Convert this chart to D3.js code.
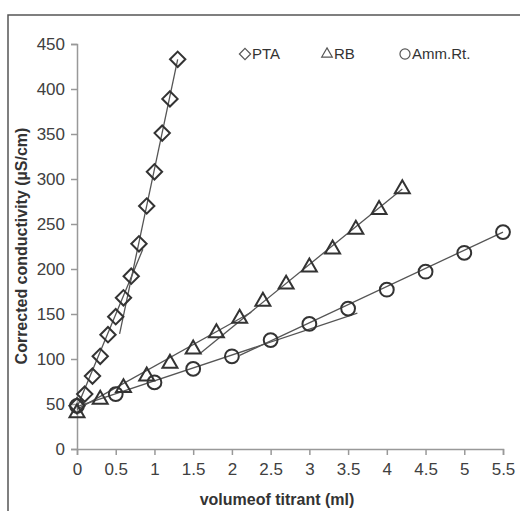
<!DOCTYPE html>
<html><head><meta charset="utf-8">
<script src="https://cdn.jsdelivr.net/npm/d3@7"></script>
<style>body{margin:0;background:#fff}svg{display:block}</style>
</head><body><svg id="c" width="520" height="511"></svg>
<script>
// ---- data ----
const ptaX = [0,0.1,0.2,0.3,0.4,0.5,0.6,0.7,0.8,0.9,1.0,1.1,1.2,1.3];
const ptaY = [48,61,81,103,127,147,168,192,228,270,308,351,389,433];
const rbX = [0,0.3,0.6,0.9,1.2,1.5,1.8,2.1,2.4,2.7,3.0,3.3,3.6,3.9,4.2];
const rbY = [40,55,68,81,95,111,129,145,164,183,202,222,244,266,289];
const ammX = [0,0.5,1.0,1.5,2.0,2.5,3.0,3.5,4.0,4.5,5.0,5.5];
const ammY = [48,61,74,89,103,121,139,156,177,197,218,241];
// trend line segments [x1,y1,x2,y2]
const ptaFits = [[0,46,0.85,222],[0.55,128,1.3,433]];
const rbFits = [[0,44,2.25,152],[1.6,107,4.2,289]];
const ammFits = [[0,47,3.62,151],[2.1,104,5.5,241]];
const xTicks = [0,0.5,1,1.5,2,2.5,3,3.5,4,4.5,5,5.5];
const yTicks = [0,50,100,150,200,250,300,350,400,450];
const seriesNames = ["PTA","RB","Amm.Rt."];

const svg = d3.select("#c");
const font = "'Liberation Sans Narrow','Liberation Sans',Arial,sans-serif";
svg.append("rect").attr("x",8).attr("y",15).attr("width",530).attr("height",530)
  .attr("fill","none").attr("stroke","#555").attr("stroke-width",1.5);

const x = d3.scaleLinear().domain([0,5.5]).range([77,503]);
const y = d3.scaleLinear().domain([0,450]).range([449,44]);
const axisColor = "#999";

const gx = svg.append("g").attr("transform","translate(0,449)")
  .call(d3.axisBottom(x).tickValues(xTicks).tickSize(6).tickPadding(8).tickFormat(d3.format("~g")));
const gy = svg.append("g").attr("transform","translate(77,0)")
  .call(d3.axisLeft(y).tickValues(yTicks).tickSize(6).tickPadding(6));
[gx,gy].forEach(g=>{
  g.selectAll("path").attr("stroke",axisColor).attr("stroke-width",1.5);
  g.selectAll("line").attr("stroke",axisColor).attr("stroke-width",1.5);
  g.selectAll("text").attr("fill","#404040").attr("font-family",font).attr("font-size",17);
});

const lineC = "#555";
function fits(arr){
  svg.append("g").selectAll("line").data(arr).join("line")
    .attr("x1",d=>x(d[0])).attr("y1",d=>y(d[1])).attr("x2",d=>x(d[2])).attr("y2",d=>y(d[3]))
    .attr("stroke",lineC).attr("stroke-width",1.3);
}
fits(ptaFits); fits(rbFits); fits(ammFits);

const mk = "#333";
const sym = {
  diamond: d3.symbol().type(d3.symbolDiamond2).size(150),
  triangle: d3.symbol().type(d3.symbolTriangle2).size(160),
  circle: d3.symbol().type(d3.symbolCircle).size(150)
};
function pts(xs,ys,s){
  svg.append("g").selectAll("path").data(xs.map((v,i)=>[v,ys[i]])).join("path")
    .attr("d",sym[s]).attr("transform",d=>`translate(${x(d[0])},${y(d[1])})`)
    .attr("fill","none").attr("stroke",mk).attr("stroke-width",2);
}
pts(ammX,ammY,"circle");
pts(rbX,rbY,"triangle");
pts(ptaX,ptaY,"diamond");

// legend
const leg = [{n:seriesNames[0],s:"diamond",x:245},{n:seriesNames[1],s:"triangle",x:327},{n:seriesNames[2],s:"circle",x:405}];
const lg = svg.append("g");
leg.forEach(l=>{
  lg.append("path").attr("d",d3.symbol().type(l.s==="diamond"?d3.symbolDiamond2:l.s==="triangle"?d3.symbolTriangle2:d3.symbolCircle).size(80))
    .attr("transform",`translate(${l.x},54)`).attr("fill","none").attr("stroke","#555").attr("stroke-width",1.2);
  lg.append("text").attr("x",l.x+7).attr("y",59).text(l.n)
    .attr("font-family",font).attr("font-size",15).attr("fill","#333");
});

svg.append("text").attr("transform","translate(27,246) rotate(-90)").attr("text-anchor","middle")
  .attr("font-family",font).attr("font-weight","bold").attr("font-size",16).attr("fill","#333")
  .text("Corrected conductivity (µS/cm)");
svg.append("text").attr("x",277).attr("y",505).attr("text-anchor","middle")
  .attr("font-family",font).attr("font-weight","bold").attr("font-size",16).attr("fill","#333")
  .text("volumeof titrant (ml)");
</script></body></html>
